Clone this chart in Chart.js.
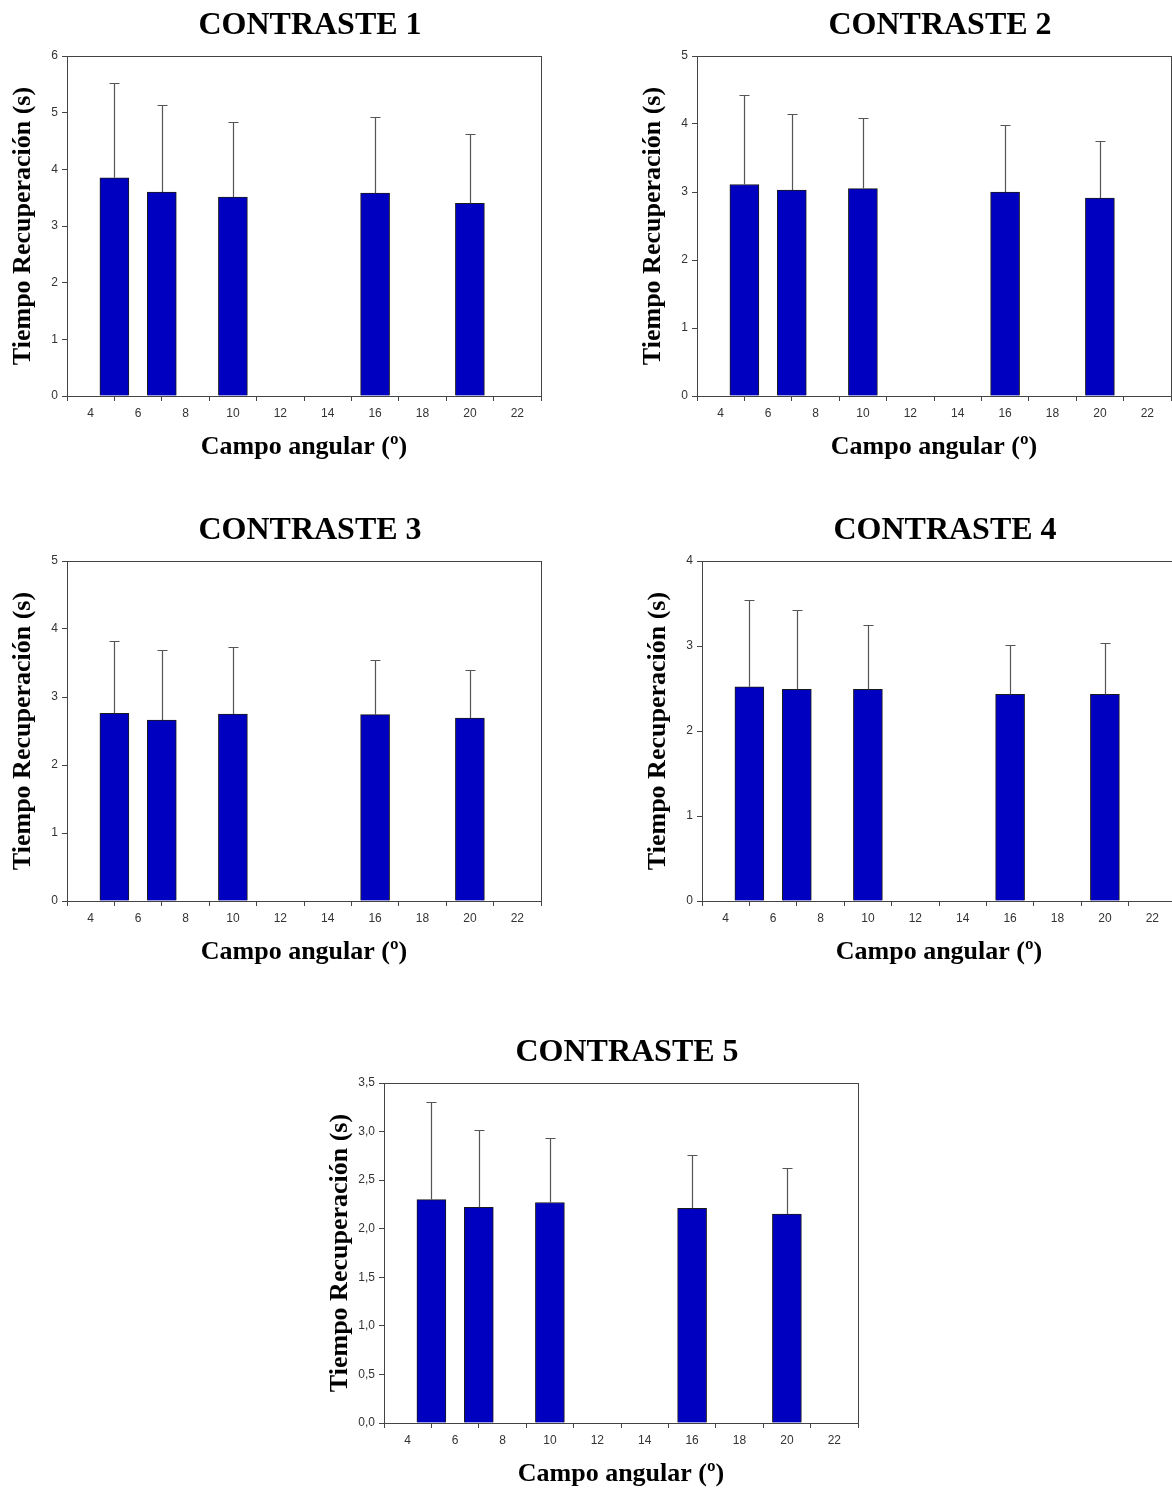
<!DOCTYPE html>
<html>
<head>
<meta charset="utf-8">
<script src="https://cdn.jsdelivr.net/npm/chart.js@4.4.1/dist/chart.umd.min.js"></script>
<style>
    html, body { margin: 0; padding: 0; background: #fff; }
    #page { position: relative; width: 1172px; height: 1488px; overflow: hidden; background: #fff; }
    canvas { position: absolute; }
</style>
</head>
<body>
<div id="page">
    <canvas id="c1" width="620" height="470" style="left:0px;top:0px"></canvas>
    <canvas id="c2" width="620" height="470" style="left:630px;top:0px"></canvas>
    <canvas id="c3" width="620" height="470" style="left:0px;top:505px"></canvas>
    <canvas id="c4" width="620" height="470" style="left:635px;top:505px"></canvas>
    <canvas id="c5" width="620" height="470" style="left:317px;top:1027px"></canvas>
</div>
<script>
// valores
const angles = [5, 7, 10, 16, 20];
const xTicks = [4, 6, 8, 10, 12, 14, 16, 18, 20, 22];
const titles = ['CONTRASTE 1', 'CONTRASTE 2', 'CONTRASTE 3', 'CONTRASTE 4', 'CONTRASTE 5'];

const means1 = [3.85, 3.60, 3.51, 3.58, 3.40];
const sd1 = [1.67, 1.53, 1.32, 1.34, 1.22];
const means2 = [3.11, 3.03, 3.05, 3.00, 2.91];
const sd2 = [1.31, 1.12, 1.04, 0.99, 0.84];
const means3 = [2.76, 2.66, 2.75, 2.74, 2.69];
const sd3 = [1.06, 1.03, 0.99, 0.80, 0.71];
const means4 = [2.52, 2.49, 2.49, 2.43, 2.43];
const sd4 = [1.02, 0.93, 0.76, 0.58, 0.60];
const means5 = [2.30, 2.22, 2.27, 2.21, 2.15];
const sd5 = [1.00, 0.80, 0.66, 0.55, 0.48];

const yMax = [6, 5, 5, 4, 3.5];
const yStep = [1, 1, 1, 1, 0.5];

const xTitle = 'Campo angular (º)';
const yTitle = 'Tiempo Recuperación (s)';

const errorBars = {
    id: 'errorBars',
    afterDatasetsDraw: function (chart) {
        const ctx = chart.ctx;
        const xs = chart.scales.x;
        const ys = chart.scales.y;
        const sds = chart.options.plugins.errorBars.sd;
        const means = chart.data.datasets[0].data;
        ctx.save();
        ctx.strokeStyle = '#555';
        ctx.lineWidth = 1.2;
        for (let i = 0; i < means.length; i++) {
            const x = Math.round(xs.getPixelForValue(means[i].x)) + 0.5;
            const y0 = ys.getPixelForValue(means[i].y);
            const y1 = Math.round(ys.getPixelForValue(means[i].y + sds[i])) + 0.5;
            ctx.beginPath();
            ctx.moveTo(x, y0);
            ctx.lineTo(x, y1);
            ctx.moveTo(x - 5, y1);
            ctx.lineTo(x + 5, y1);
            ctx.stroke();
        }
        ctx.restore();
    }
};

// marco completo y titulo del grafico
const frame = {
    id: 'frame',
    afterDraw: function (chart) {
        const a = chart.chartArea;
        const ctx = chart.ctx;
        ctx.save();
        ctx.strokeStyle = '#444';
        ctx.lineWidth = 1;
        ctx.strokeRect(Math.round(a.left) + 0.5, Math.round(a.top) + 0.5,
            Math.round(a.right - a.left), Math.round(a.bottom - a.top));

        ctx.fillStyle = '#000';
        ctx.font = 'bold 32px "Liberation Serif"';
        ctx.textAlign = 'center';
        ctx.textBaseline = 'middle';
        ctx.fillText(chart.options.plugins.frame.title, (a.left + a.right) / 2 + 6, 26);
        ctx.restore();
    }
};

function makeChart(divId, title, means, sds, max, step) {
    const points = angles.map(function (a, i) {
        return {x: a, y: means[i]};
    });
    new Chart(document.getElementById(divId), {
        type: 'bar',
        data: {
            datasets: [{
                data: points,
                backgroundColor: '#0000C0',
                borderColor: '#1a1a1a',
                borderWidth: 1,
                borderSkipped: 'bottom',
                barThickness: 29
            }]
        },
        options: {
            responsive: false,
            animation: false,
            layout: {padding: {left: 0, right: 79, top: 56, bottom: 0}},
            plugins: {
                legend: {display: false},
                tooltip: {enabled: false},
                title: {display: false},
                errorBars: {sd: sds},
                frame: {title: title}
            },
            scales: {
                x: {
                    type: 'linear',
                    min: 3,
                    max: 23,
                    offset: false,
                    afterBuildTicks: function (s) {
                        s.ticks = xTicks.map(function (v) { return {value: v}; });
                    },
                    afterFit: function (s) { s.height = 74; },
                    grid: {drawOnChartArea: false, drawTicks: true, tickLength: 5, color: '#444'},
                    border: {display: true, color: '#444'},
                    ticks: {
                        color: '#333',
                        font: {family: 'Liberation Sans', size: 12},
                        padding: 5,
                        maxRotation: 0,
                        autoSkip: false
                    },
                    title: {
                        display: true,
                        text: xTitle,
                        color: '#000',
                        font: {family: 'Liberation Serif', size: 26, weight: 'bold', lineHeight: 1.2},
                        padding: {top: 0, bottom: 7}
                    }
                },
                y: {
                    min: 0,
                    max: max,
                    afterFit: function (s) { s.width = 67; },
                    grid: {drawOnChartArea: false, drawTicks: true, tickLength: 5, color: '#444'},
                    border: {display: true, color: '#444'},
                    ticks: {
                        stepSize: step,
                        color: '#333',
                        font: {family: 'Liberation Sans', size: 12},
                        padding: 4,
                        callback: function (v) {
                            return step < 1 ? v.toFixed(1).replace('.', ',') : String(v);
                        }
                    },
                    title: {
                        display: true,
                        text: yTitle,
                        color: '#000',
                        font: {family: 'Liberation Serif', size: 26, weight: 'bold', lineHeight: 1.2},
                        padding: {top: 8, bottom: 0}
                    }
                }
            }
        },
        plugins: [errorBars, frame]
    });
}

makeChart('c1', titles[0], means1, sd1, yMax[0], yStep[0]);
makeChart('c2', titles[1], means2, sd2, yMax[1], yStep[1]);
makeChart('c3', titles[2], means3, sd3, yMax[2], yStep[2]);
makeChart('c4', titles[3], means4, sd4, yMax[3], yStep[3]);
makeChart('c5', titles[4], means5, sd5, yMax[4], yStep[4]);
</script>
</body>
</html>
